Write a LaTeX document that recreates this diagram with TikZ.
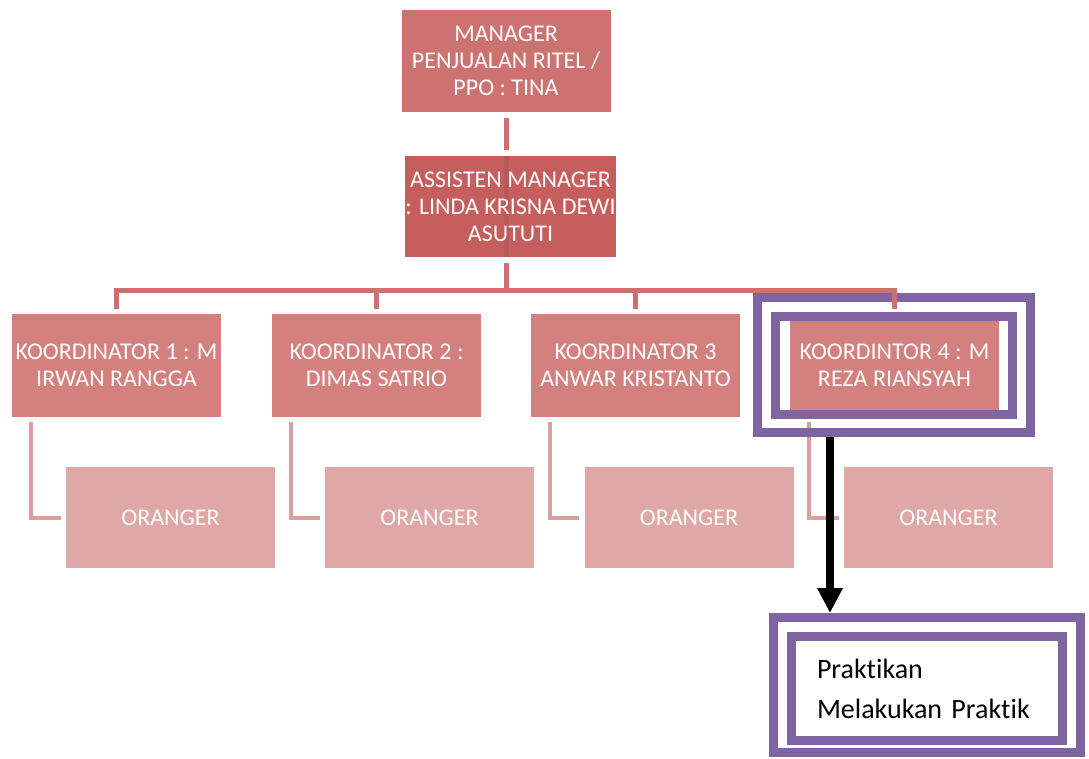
\documentclass[tikz,border=0pt]{standalone}
\usepackage{fontspec}
\setmainfont{Carlito}[Ligatures=NoCommon]
\usetikzlibrary{arrows.meta}

\definecolor{mgrfill}{RGB}{204,114,112}
\definecolor{asmfill}{RGB}{198,94,93}
\definecolor{koorfill}{RGB}{212,128,127}
\definecolor{orfill}{RGB}{224,167,167}
\definecolor{trunkcol}{RGB}{204,112,112}
\definecolor{branchcol}{RGB}{218,160,160}
\definecolor{framecol}{RGB}{128,100,162}

\tikzset{
  orgbox/.style={rectangle, text=white, align=center, inner sep=0pt,
    minimum width=209pt, font=\fontsize{24}{27}\selectfont},
  trunk/.style={draw=trunkcol, line width=5pt},
  branch/.style={draw=branchcol, line width=4pt},
  frame/.style={draw=framecol, line width=9pt, rectangle, inner sep=0pt},
  pointer/.style={draw=black, line width=8pt, -{Triangle[length=25pt, width=24pt]}}
}

\begin{document}
\begin{tikzpicture}[x=1pt, y=-1pt]
      \useasboundingbox (0,0) rectangle (1089,758);
      % Top Nodes
      \node[orgbox, fill=mgrfill, minimum height=102pt] (mgr) at (506,61) {MANAGER\\PENJUALAN RITEL /\\PPO : TINA};
      \node[orgbox, fill=asmfill, minimum height=101pt] (asm) at (510.5,206.5) {ASSISTEN MANAGER\\: LINDA KRISNA DEWI\\ASUTUTI};
      \coordinate (bar) at (506,290);
      % Koordinator Nodes
      \node[orgbox, fill=koorfill, minimum height=103pt] (k1) at (116.5,365.5) {KOORDINATOR 1 : M\\IRWAN RANGGA};
      \node[orgbox, fill=koorfill, minimum height=103pt] (k2) at (376.5,365.5) {KOORDINATOR 2 :\\DIMAS SATRIO};
      \node[orgbox, fill=koorfill, minimum height=103pt] (k3) at (635.5,365.5) {KOORDINATOR 3\\ANWAR KRISTANTO};
      \node[orgbox, fill=koorfill, minimum height=103pt] (k4) at (894.5,365.5) {KOORDINTOR 4 : M\\REZA RIANSYAH};
      % Oranger Nodes
      \node[orgbox, fill=orfill, minimum height=101pt] (o1) at (170.5,517.5) {ORANGER};
      \node[orgbox, fill=orfill, minimum height=101pt] (o2) at (429.5,517.5) {ORANGER};
      \node[orgbox, fill=orfill, minimum height=101pt] (o3) at (689,517.5) {ORANGER};
      \node[orgbox, fill=orfill, minimum height=101pt] (o4) at (948.5,517.5) {ORANGER};
      % Oranger Edges
      \draw[branch] ([xshift=19.5pt, yshift=-5pt]k1.south west) |- ([xshift=-5pt]o1.west);
      \draw[branch] ([xshift=19.5pt, yshift=-5pt]k2.south west) |- ([xshift=-5pt]o2.west);
      \draw[branch] ([xshift=19.5pt, yshift=-5pt]k3.south west) |- ([xshift=-5pt]o3.west);
      \draw[branch] ([xshift=19.5pt, yshift=-5pt]k4.south west) |- ([xshift=-5pt]o4.west);
      % Highlight Frames
      \node[frame, minimum width=273pt, minimum height=135pt] (f4out) at (894,365) {};
      \node[frame, minimum width=237pt, minimum height=98pt] (f4in) at (894,365.5) {};
      \node[frame, minimum width=307pt, minimum height=135pt] (prakout) at (927,685) {};
      \node[frame, minimum width=271pt, minimum height=104pt, text width=220pt, align=left,
        font=\fontsize{28}{40}\selectfont] (prakin) at (927,688.5) {Praktikan\\Melakukan Praktik};
      % Trunk Edges
      \draw[trunk, shorten <=6pt, shorten >=6pt] (mgr.south) -- (mgr.south |- asm.north);
      \draw[black, opacity=0.06, line width=5pt] (mgr.south |- asm.north) -- (mgr.south |- asm.south);
      \draw[trunk, shorten <=6pt] (mgr.south |- asm.south) -- (bar);
      \draw[trunk] ([yshift=5pt]k1.north) |- (bar) -| ([yshift=5pt]k4.north);
      \draw[trunk] ([yshift=5pt]k2.north) -- (k2.north |- bar);
      \draw[trunk] ([yshift=5pt]k3.north) -- (k3.north |- bar);
      % Praktik Arrow
      \coordinate (drop) at ([xshift=-64pt]f4out.south);
      \draw[pointer] (drop) -- (drop |- prakout.north);
    \end{tikzpicture}
\end{document}
